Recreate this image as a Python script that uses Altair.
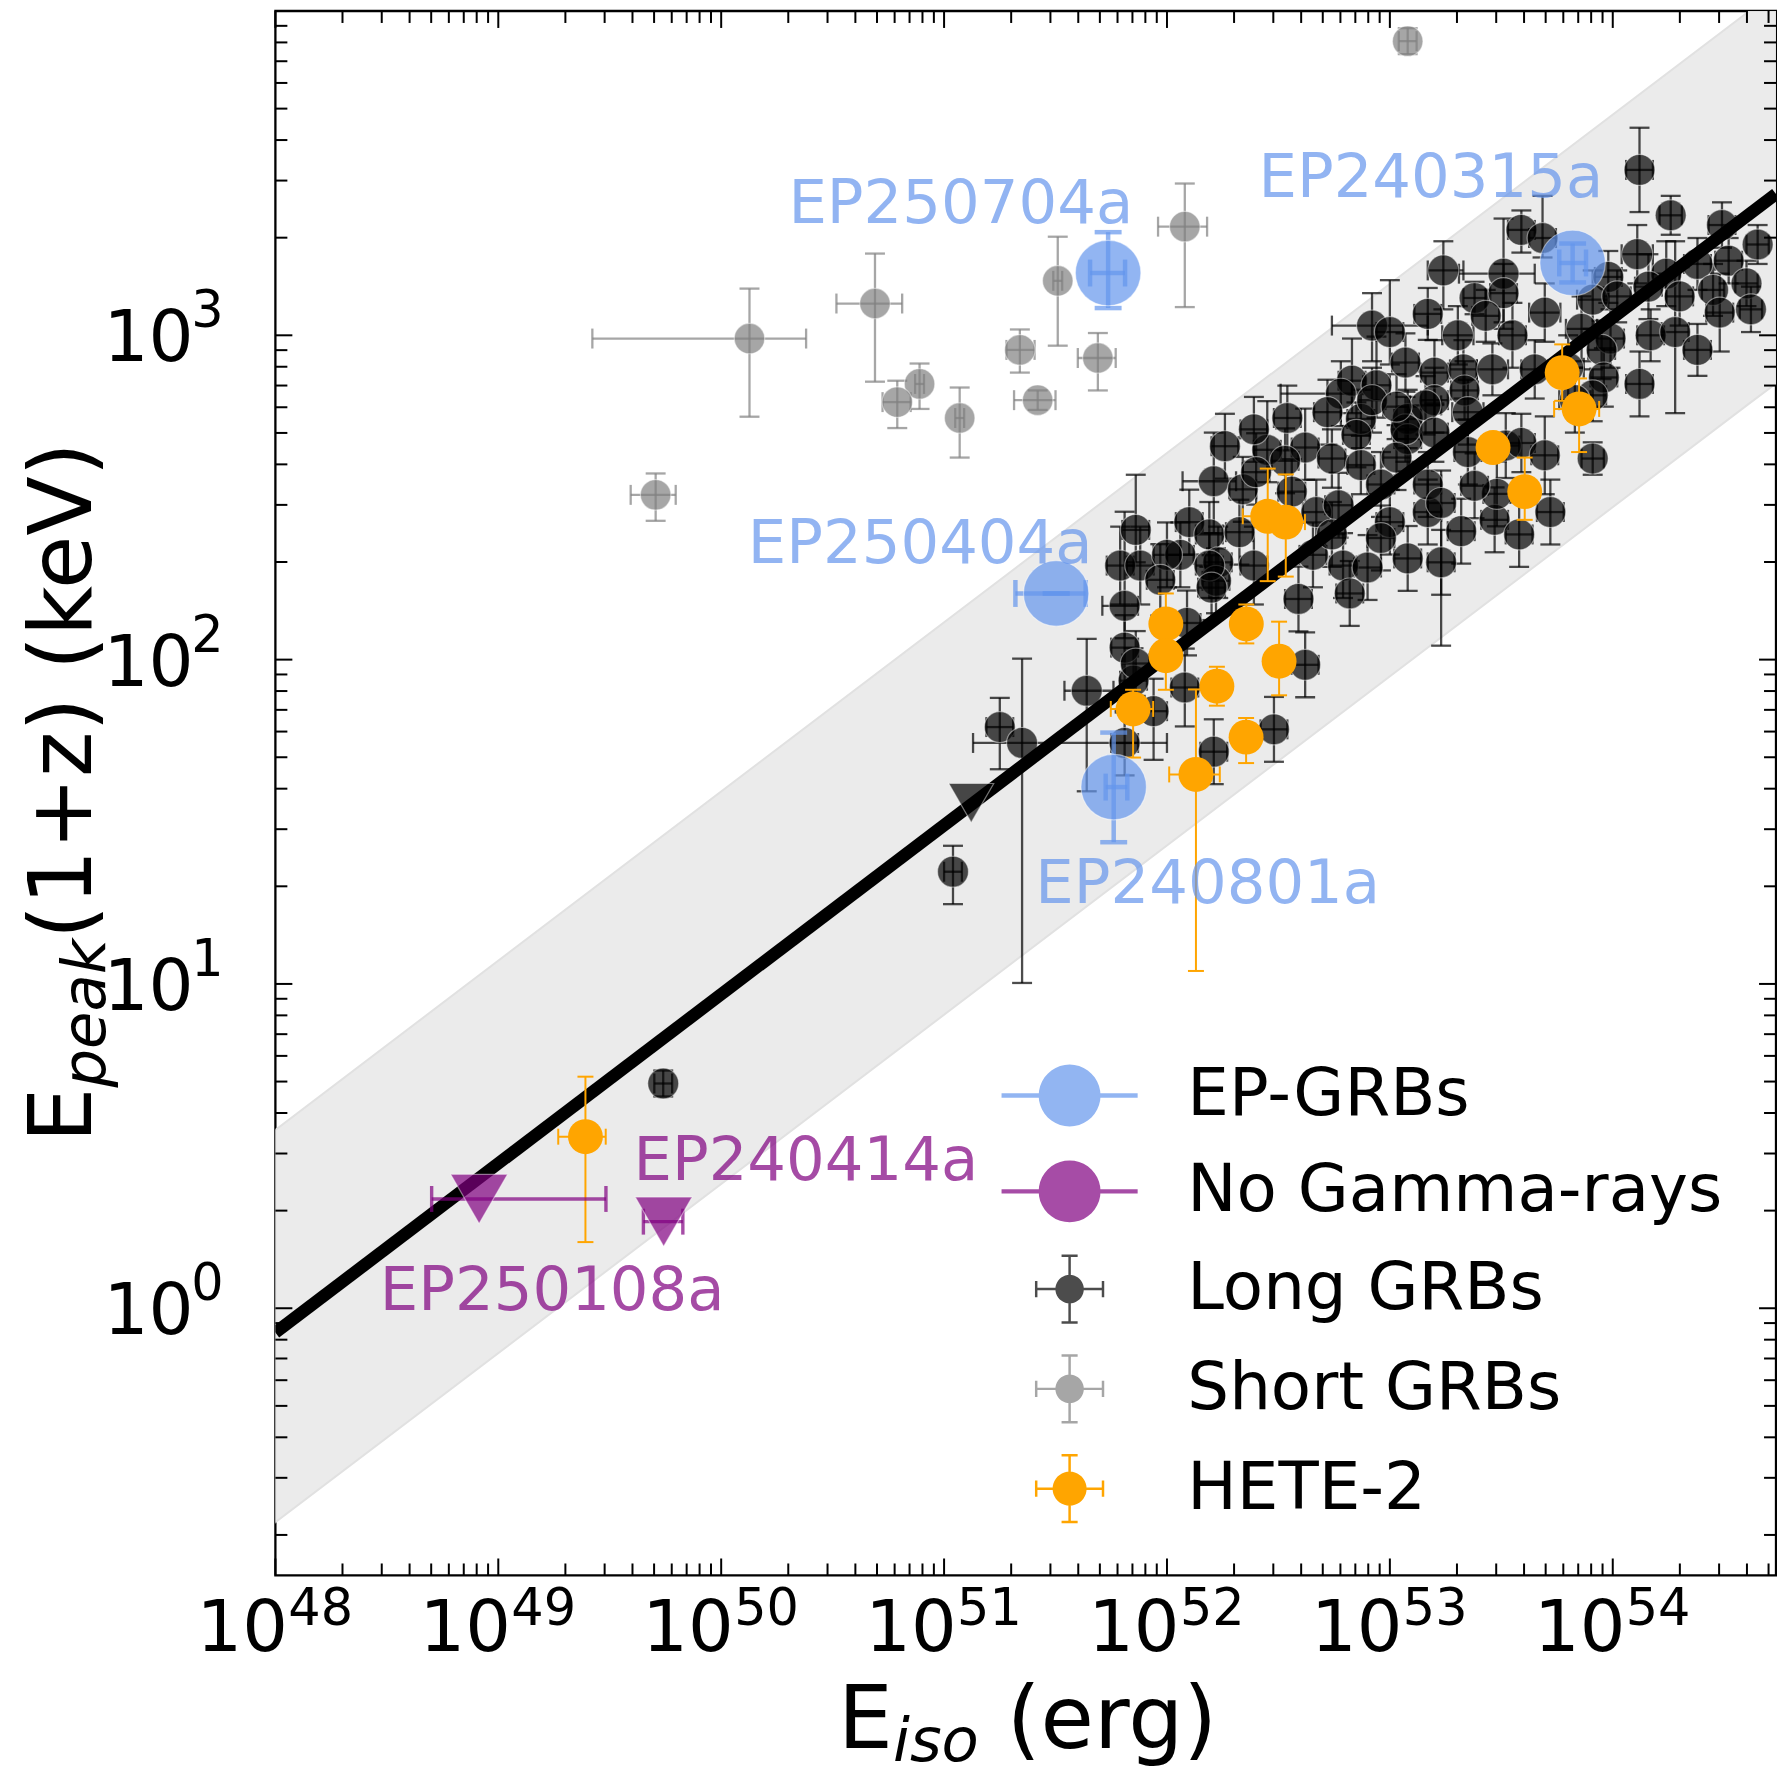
import altair as alt
import numpy as np
import pandas as pd

W, H = 1504, 1568
XDOM = [1e48, 5.4e54]
YDOM = [0.15, 1e4]
FONT = "DejaVu Sans"

# ---------------- data (log10 values) ----------------
# Amati relation (end points) and its scatter band (corners where it meets the frame)
rel_logE = [48.0, 54.732]
rel_logEp = [-0.075, 3.436]
band_logE = [48.0, 54.613, 54.732]
band_up_logEp = [0.55, 4.0, 4.0]
band_dn_logEp = [-0.66, 2.790, 2.851]

# Long GRBs
long_logE = [54.12, 54.26, 54.49, 54.65, 54.38, 54.52, 54.11, 54.24, 53.98, 53.91,
             54.02, 54.16, 54.30, 54.45, 54.60, 53.86, 53.99, 54.17, 54.28, 54.48,
             54.62, 54.38, 53.95, 53.80, 53.96, 53.91, 53.83, 53.91, 54.12, 53.59,
             53.685, 53.24, 53.51, 53.38, 53.51, 53.17, 53.305, 53.43, 53.55, 53.695,
             52.92, 53.00, 52.83, 52.94, 53.07, 53.20, 53.33, 53.46, 53.65, 53.20,
             53.335, 53.35, 52.78, 52.87, 52.85, 53.08, 53.08, 53.16, 53.07, 53.20,
             53.35, 53.52, 53.59, 53.695, 52.21, 52.34, 52.45, 52.62, 52.74, 52.40,
             52.10, 52.19, 52.325, 52.39, 52.23, 52.56, 52.67, 52.77, 52.87, 52.96,
             53.00, 53.08, 52.96, 52.79, 52.655, 52.74, 53.17, 53.17, 52.22, 52.06,
             52.53, 52.92, 51.86, 51.79, 51.88, 52.00, 51.97, 52.19, 52.20, 51.81,
             51.81, 52.09, 52.08, 51.85, 51.94, 51.86, 51.64, 51.25, 51.35, 51.81,
             52.21, 51.04, 49.74, 52.48, 52.62, 53.32, 53.47, 53.23, 53.23, 52.90,
             53.03, 53.48, 53.58, 53.72, 53.38, 52.82, 52.59, 53.03, 52.72, 52.54,
             52.39, 52.26]
long_logEp = [3.51, 3.37, 3.34, 3.28, 3.22, 3.23, 3.25, 3.19, 3.18, 3.11,
              3.12, 3.15, 3.12, 3.14, 3.16, 3.02, 2.99, 3.00, 3.01, 3.07,
              3.08, 2.955, 2.955, 2.90, 2.87, 2.815, 2.80, 2.62, 2.85, 3.325,
              3.30, 3.20, 3.19, 3.115, 3.13, 3.066, 3.00, 3.06, 3.00, 3.07,
              3.03, 3.01, 2.86, 2.846, 2.916, 2.885, 2.895, 2.895, 2.895, 2.80,
              2.83, 2.763, 2.82, 2.742, 2.693, 2.742, 2.68, 2.784, 2.71, 2.70,
              2.64, 2.66, 2.668, 2.63, 2.55, 2.525, 2.647, 2.654, 2.62, 2.578,
              2.424, 2.386, 2.393, 2.29, 2.30, 2.518, 2.455, 2.476, 2.60, 2.54,
              2.424, 2.312, 2.375, 2.29, 2.323, 2.386, 2.455, 2.54, 2.243, 2.323,
              2.613, 2.80, 2.40, 2.29, 2.29, 2.323, 2.246, 2.29, 2.222, 2.166,
              2.037, 2.113, 1.914, 1.935, 1.841, 1.988, 1.904, 1.792, 1.743, 1.743,
              1.716, 1.346, 0.693, 1.785, 1.984, 2.396, 2.431, 2.30, 2.483, 2.284,
              2.623, 2.511, 2.386, 2.455, 2.536, 2.204, 2.187, 2.78, 2.763, 2.745,
              2.71, 2.658]
long_xlo = [.06, .05, .06, .05, .06, .06, .07, .06, .06, .07,
            .06, .06, .06, .05, .05, .07, .06, .06, .06, .06,
            .05, .06, .06, .07, .06, .06, .07, .05, .06, .06,
            .06, .07, .20, .05, .06, .06, .07, .06, .06, .07,
            .18, .06, .06, .06, .06, .06, .06, .07, .06, .06,
            .06, .07, .27, .06, .06, .06, .06, .07, .06, .06,
            .06, .06, .06, .06, .14, .06, .06, .06, .06, .06,
            .06, .06, .06, .06, .06, .06, .06, .06, .06, .06,
            .06, .06, .06, .06, .06, .06, .06, .06, .06, .06,
            .06, .06, .06, .06, .06, .06, .06, .06, .06, .10,
            .06, .06, .06, .06, .06, .06, .10, .06, .22, .06,
            .06, .04, .04, .06, .06, .06, .06, .06, .06, .06,
            .06, .06, .06, .06, .06, .06, .06, .06, .06, .06,
            .06, .06]
long_xhi = [.06, .05, .06, .05, .06, .06, .07, .06, .06, .07,
            .06, .06, .06, .05, .05, .07, .06, .06, .06, .06,
            .05, .06, .06, .07, .06, .06, .07, .05, .06, .06,
            .06, .09, .14, .05, .06, .06, .07, .06, .06, .07,
            .25, .06, .06, .06, .06, .06, .06, .07, .06, .06,
            .06, .07, .05, .06, .06, .06, .06, .07, .06, .06,
            .06, .06, .06, .06, .10, .06, .06, .06, .06, .06,
            .06, .06, .06, .06, .06, .06, .06, .06, .06, .06,
            .06, .06, .06, .06, .06, .06, .06, .06, .06, .06,
            .06, .06, .06, .06, .06, .06, .06, .06, .06, .06,
            .06, .06, .06, .06, .06, .06, .12, .06, .65, .06,
            .06, .04, .04, .06, .06, .06, .06, .06, .06, .06,
            .06, .06, .06, .06, .06, .06, .06, .06, .06, .06,
            .06, .06]
long_yup = [.13, .06, .07, .06, .08, .07, .09, .10, .08, .09,
            .08, .10, .09, .08, .07, .10, .09, .08, .28, .12,
            .07, .08, .09, .10, .09, .08, .10, .05, .10, .06,
            .13, .09, .17, .05, .09, .08, .09, .08, .10, .09,
            .10, .16, .13, .15, .09, .10, .09, .08, .09, .10,
            .09, .10, .10, .09, .10, .09, .10, .09, .10, .09,
            .10, .10, .09, .12, .15, .10, .15, .12, .09, .12,
            .10, .10, .10, .12, .11, .10, .10, .10, .09, .10,
            .10, .10, .10, .10, .10, .10, .10, .10, .10, .10,
            .10, .10, .17, .12, .12, .10, .11, .10, .10, .29,
            .10, .10, .12, .10, .10, .10, .16, .09, .26, .10,
            .10, .08, .04, .10, .10, .10, .10, .10, .10, .10,
            .10, .10, .10, .10, .10, .10, .10, .10, .10, .10,
            .10, .10]
long_ydn = [.13, .06, .07, .06, .08, .07, .09, .10, .08, .09,
            .08, .10, .09, .08, .07, .10, .09, .08, .25, .12,
            .07, .08, .09, .10, .09, .08, .10, .05, .10, .07,
            .06, .12, .17, .05, .09, .08, .09, .08, .10, .09,
            .11, .10, .10, .10, .09, .10, .09, .08, .09, .10,
            .09, .10, .10, .09, .10, .09, .10, .09, .10, .09,
            .10, .10, .09, .12, .16, .10, .10, .10, .09, .10,
            .10, .10, .10, .12, .11, .10, .10, .10, .09, .10,
            .10, .10, .10, .10, .10, .10, .10, .10, .10, .10,
            .10, .10, .10, .12, .12, .10, .11, .10, .10, .10,
            .20, .10, .12, .10, .15, .10, .31, .13, .74, .10,
            .10, .10, .04, .10, .10, .10, .10, .10, .44, .10,
            .10, .10, .10, .10, .10, .10, .10, .10, .10, .10,
            .10, .10]
# Long GRB upper limit (triangle)
long_ul_logE = [51.122]
long_ul_logEp = [1.558]

# Short GRBs
short_logE = [53.08, 52.08, 51.51, 51.69, 51.34, 51.42, 51.07, 50.89, 50.79, 50.69, 50.127, 49.706]
short_logEp = [3.907, 3.335, 3.168, 2.93, 2.955, 2.80, 2.745, 2.85, 2.794, 3.098, 2.99, 2.508]
short_xlo = [.04, .12, .02, .09, .06, .106, .02, .02, .066, .173, .705, .112]
short_xhi = [.04, .10, .02, .08, .066, .08, .02, .02, .06, .122, .254, .09]
short_yup = [.04, .133, .136, .077, .063, .03, .094, .063, .066, .154, .154, .066]
short_ydn = [.04, .248, .20, .10, .07, .03, .122, .077, .08, .241, .241, .08]

# HETE-2
hete_logE = [49.391, 53.773, 53.849, 53.463, 53.605, 52.452, 52.533, 51.995, 52.356, 51.995,
             52.503, 52.224, 51.848, 52.355, 52.13]
hete_logEp = [0.529, 2.885, 2.773, 2.654, 2.518, 2.442, 2.424, 2.11, 2.11, 2.012,
              1.995, 1.918, 1.848, 1.761, 1.646]
hete_xlo = [.122, .05, .112, .03, .03, .112, .117, .03, .03, .03, .03, .03, .10, .03, .12]
hete_xhi = [.091, .05, .09, .03, .03, .066, .086, .03, .03, .03, .03, .03, .09, .03, .107]
hete_yup = [.185, .087, .094, .03, .105, .147, .147, .094, .06, .094, .122, .06, .059, .059, .262]
hete_ydn = [.325, .087, .133, .03, .087, .20, .168, .098, .06, .105, .105, .06, .15, .08, .606]

# EP-GRBs
ep_names = ["EP250704a", "EP240315a", "EP250404a", "EP240801a"]
ep_logE = [51.736, 53.82, 51.503, 51.761]
ep_logEp = [3.192, 3.223, 2.204, 1.607]
ep_xlo = [.081, .06, .183, .036]
ep_xhi = [.076, .06, .132, .061]
ep_yup = [.126, .06, 0.0, .168]
ep_ydn = [.108, .06, 0.0, .17]

# EP events without gamma-rays (upper limits)
ng_names = ["EP240414a", "EP250108a"]
ng_logE = [49.742, 48.914]
ng_logEp = [0.267, 0.337]
ng_xlo = [.091, .213]
ng_xhi = [.086, .569]

# annotation anchors
ann_blue = ["EP250704a", "EP240315a", "EP250404a", "EP240801a"]
ann_blue_logE = [51.075, 53.184, 50.893, 52.183]
ann_blue_logEp = [3.346, 3.426, 2.298, 1.251]
ann_purple = ["EP240414a", "EP250108a"]
ann_purple_logE = [50.380, 49.242]
ann_purple_logEp = [0.396, -0.005]

# axes
xt_major = [1e48, 1e49, 1e50, 1e51, 1e52, 1e53, 1e54]
xt_exp = ["48", "49", "50", "51", "52", "53", "54"]
yt_major = [1.0, 10.0, 100.0, 1000.0]
yt_exp = ["0", "1", "2", "3"]
xt_minor = [k * 10.0 ** d for d in range(48, 55) for k in range(2, 10) if k * 10.0 ** d <= XDOM[1]]
yt_minor = [k * 10.0 ** d for d in range(-1, 4) for k in range(2, 10) if YDOM[0] <= k * 10.0 ** d <= YDOM[1]]

groups = ["EP-GRBs", "No Gamma-rays", "Long GRBs", "Short GRBs", "HETE-2"]
group_colors = ["rgba(100,149,237,0.7)", "rgba(128,0,128,0.7)", "rgba(0,0,0,0.7)",
                "rgba(128,128,128,0.7)", "#FFA500"]

# ---------------- helpers ----------------
xsc = alt.Scale(type="log", domain=XDOM)
ysc = alt.Scale(type="log", domain=YDOM)


def X(f):
    return alt.X(f"{f}:Q", scale=xsc, axis=None)


def Y(f):
    return alt.Y(f"{f}:Q", scale=ysc, axis=None)


def table(logE, logEp, xlo=None, xhi=None, yup=None, ydn=None):
    lE = np.asarray(logE, float)
    lP = np.asarray(logEp, float)
    d = pd.DataFrame({"E": 10 ** lE, "Ep": 10 ** lP})
    if xlo is not None:
        d["E_lo"] = 10 ** (lE - np.asarray(xlo, float))
        d["E_hi"] = 10 ** (lE + np.asarray(xhi, float))
    if yup is not None:
        d["Ep_hi"] = 10 ** (lP + np.asarray(yup, float))
        d["Ep_lo"] = 10 ** (lP - np.asarray(ydn, float))
    return d


def errbars(d, color, op, lw, cap, xerr=True, yerr=True):
    out = []
    b = alt.Chart(d)
    if xerr:
        out.append(b.mark_rule(color=color, opacity=op, strokeWidth=lw).encode(
            x=X("E_lo"), x2=alt.X2("E_hi"), y=Y("Ep")))
        for f in ("E_lo", "E_hi"):
            out.append(b.mark_tick(color=color, opacity=op, orient="vertical", size=cap,
                                   thickness=lw).encode(x=X(f), y=Y("Ep")))
    if yerr:
        out.append(b.mark_rule(color=color, opacity=op, strokeWidth=lw).encode(
            x=X("E"), y=Y("Ep_lo"), y2=alt.Y2("Ep_hi")))
        for f in ("Ep_lo", "Ep_hi"):
            out.append(b.mark_tick(color=color, opacity=op, orient="horizontal", size=cap,
                                   thickness=lw).encode(x=X("E"), y=Y(f)))
    return out


def points(d, fill, fop, size, shape="circle", stroke="white", sop=0.45, sw=1.2):
    return alt.Chart(d).mark_point(filled=True, shape=shape, size=size, fill=fill, opacity=1,
                                   fillOpacity=fop, stroke=stroke, strokeOpacity=sop,
                                   strokeWidth=sw).encode(x=X("E"), y=Y("Ep"))


def poly_circle(r, n=40):
    pts = [(r * np.cos(2 * np.pi * i / n), r * np.sin(2 * np.pi * i / n)) for i in range(n)]
    return "M" + " L".join(f"{x:.4f},{y:.4f}" for x, y in pts) + " Z"


def rect(x0, y0, x1, y1):
    return f"M{x0},{y0} L{x1},{y0} L{x1},{y1} L{x0},{y1} Z"


def err_icon(r):
    return " ".join([poly_circle(r), rect(-1.08, -0.04, 1.08, 0.04), rect(-0.04, -1.08, 0.04, 1.08),
                     rect(-1.12, -0.26, -1.04, 0.26), rect(1.04, -0.26, 1.12, 0.26),
                     rect(-0.26, -1.12, 0.26, -1.04), rect(-0.26, 1.04, 0.26, 1.12)])


line_icon = poly_circle(1.0) + " " + rect(-2.2, -0.07, 2.2, 0.07)

# ---------------- layers ----------------
layers = []

band_df = pd.DataFrame({"E": 10 ** np.asarray(band_logE), "up": 10 ** np.asarray(band_up_logEp),
                        "dn": 10 ** np.asarray(band_dn_logEp)})
layers.append(alt.Chart(band_df).mark_area(clip=True, color="#ebebeb", opacity=1,
                                           stroke="#e1e1e1", strokeWidth=2).encode(
    x=X("E"), y=Y("up"), y2=alt.Y2("dn")))

long_df = table(long_logE, long_logEp, long_xlo, long_xhi, long_yup, long_ydn)
layers += errbars(long_df, "black", 0.7, 2.3, 20)
layers.append(points(long_df, "black", 0.7, 960))

short_df = table(short_logE, short_logEp, short_xlo, short_xhi, short_yup, short_ydn)
layers += errbars(short_df, "#808080", 0.7, 2.3, 20)
layers.append(points(short_df, "#808080", 0.7, 930))

rel_df = pd.DataFrame({"E": 10 ** np.asarray(rel_logE), "Ep": 10 ** np.asarray(rel_logEp)})
layers.append(alt.Chart(rel_df).mark_line(clip=True, color="black", strokeWidth=12.5).encode(
    x=X("E"), y=Y("Ep")))

ul_df = table(long_ul_logE, long_ul_logEp)
layers.append(points(ul_df, "black", 0.7, 2025, shape="triangle-down"))

hete_df = table(hete_logE, hete_logEp, hete_xlo, hete_xhi, hete_yup, hete_ydn)
layers += errbars(hete_df, "#FFA500", 1.0, 2.0, 16)
layers.append(points(hete_df, "#FFA500", 1.0, 1225, stroke="#FFA500", sop=0, sw=0))

ep_df = table(ep_logE, ep_logEp, ep_xlo, ep_xhi, ep_yup, ep_ydn)
layers += errbars(ep_df, "#6495ED", 0.7, 4.5, 27)
layers.append(points(ep_df, "#6495ED", 0.7, 4300))

ng_df = table(ng_logE, ng_logEp, ng_xlo, ng_xhi)
layers += errbars(ng_df, "purple", 0.7, 3.4, 26, yerr=False)
layers.append(points(ng_df, "purple", 0.7, 3249, shape="triangle-down"))

# annotations
ab = table(ann_blue_logE, ann_blue_logEp)
ab["name"] = ann_blue
layers.append(alt.Chart(ab).mark_text(font=FONT, fontSize=61, color="#6495ED", opacity=0.7,
                                      align="center", baseline="alphabetic").encode(
    x=X("E"), y=Y("Ep"), text="name:N"))
ap = table(ann_purple_logE, ann_purple_logEp)
ap["name"] = ann_purple
layers.append(alt.Chart(ap).mark_text(font=FONT, fontSize=61, color="purple", opacity=0.7,
                                      align="center", baseline="alphabetic").encode(
    x=X("E"), y=Y("Ep"), text="name:N"))


# inward ticks on all four sides
def xticks(vals, L):
    b = alt.Chart(pd.DataFrame({"v": vals})).mark_rule(color="black", strokeWidth=2)
    return [b.encode(x=X("v"), y=alt.value(H), y2=alt.value(H - L)),
            b.encode(x=X("v"), y=alt.value(0), y2=alt.value(L))]


def yticks(vals, L):
    b = alt.Chart(pd.DataFrame({"v": vals})).mark_rule(color="black", strokeWidth=2)
    return [b.encode(y=Y("v"), x=alt.value(0), x2=alt.value(L)),
            b.encode(y=Y("v"), x=alt.value(W), x2=alt.value(W - L))]


layers += xticks(xt_major, 17) + xticks(xt_minor, 12)
layers += yticks(yt_major, 17) + yticks(yt_minor, 12)

# tick labels 10^n
xl = pd.DataFrame({"v": xt_major, "e": xt_exp})
layers.append(alt.Chart(xl).mark_text(text="10", font=FONT, fontSize=72, align="left",
                                      baseline="alphabetic", dx=-79, color="black").encode(
    x=X("v"), y=alt.value(H + 76)))
layers.append(alt.Chart(xl).mark_text(font=FONT, fontSize=51, align="left",
                                      baseline="alphabetic", dx=13, color="black").encode(
    x=X("v"), y=alt.value(H + 50), text="e:N"))
yl = pd.DataFrame({"v": yt_major, "e": yt_exp})
layers.append(alt.Chart(yl).mark_text(text="10", font=FONT, fontSize=71, align="right",
                                      baseline="alphabetic", dy=26, color="black").encode(
    y=Y("v"), x=alt.value(-82)))
layers.append(alt.Chart(yl).mark_text(font=FONT, fontSize=51, align="right",
                                      baseline="alphabetic", dy=-8, color="black").encode(
    y=Y("v"), x=alt.value(-52), text="e:N"))

# axis titles
one = pd.DataFrame({"k": [0]})


def title_piece(txt, size, x, y, italic=False, angle=0, dx=0, dy=0):
    kw = dict(text=txt, font=FONT, fontSize=size, align="left", baseline="alphabetic",
              color="black", dx=dx, dy=dy)
    if italic:
        kw["fontStyle"] = "italic"
    if angle:
        kw["angle"] = angle
    return alt.Chart(one).mark_text(**kw).encode(x=alt.value(x), y=alt.value(y))


layers.append(title_piece("E", 87, 564, H + 173))
layers.append(title_piece("iso", 61, 619, H + 186, italic=True))
layers.append(title_piece("(erg)", 87, 733, H + 173))
layers.append(title_piece("E", 87, -185, H / 2, angle=270, dx=-350))
layers.append(title_piece("peak", 61, -185, H / 2, italic=True, angle=270, dx=-295, dy=14))
layers.append(title_piece("(1+z) (keV)", 87, -185, H / 2, angle=270, dx=-146))

# legend (carried by an invisible, clipped layer)
leg = alt.Legend(orient="none", legendX=763, legendY=1054, title=None, direction="vertical",
                 labelFontSize=66, labelFont=FONT, labelColor="black", symbolSize=3844,
                 labelOffset=85, rowPadding=30, padding=0, symbolStrokeWidth=0, labelLimit=0)
leg_df = pd.DataFrame({"group": groups})
layers.append(alt.Chart(leg_df).mark_point(filled=True, clip=True, size=3844, strokeWidth=0,
                                           opacity=1).encode(
    x=alt.XDatum(1e30, type="quantitative", scale=xsc, axis=None),
    y=alt.YDatum(1e-6, type="quantitative", scale=ysc, axis=None),
    color=alt.Color("group:N", scale=alt.Scale(domain=groups, range=group_colors), legend=leg),
    shape=alt.Shape("group:N", scale=alt.Scale(domain=groups,
                    range=[line_icon, line_icon, err_icon(0.46), err_icon(0.46), err_icon(0.55)]),
                    legend=leg),
))

chart = alt.layer(*layers).properties(
    width=W, height=H, padding={"left": 13, "top": 0, "right": 0, "bottom": 0}).configure(
    font=FONT).configure_view(stroke="black", strokeWidth=2.3)

chart.save("out.html", embed_options={"renderer": "svg", "actions": False})
